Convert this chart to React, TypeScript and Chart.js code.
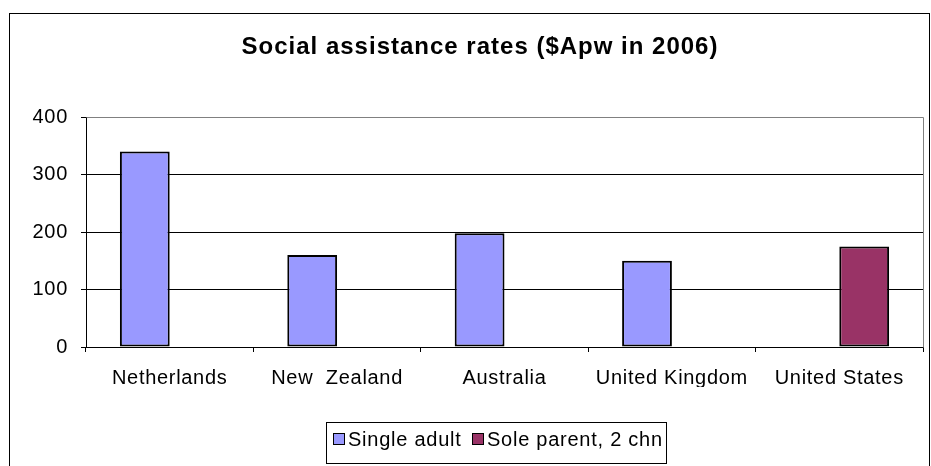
import React, { useEffect, useRef } from "react";
import { Chart, registerables } from "chart.js";

Chart.register(...registerables);

const categories = ["Netherlands", "New  Zealand", "Australia", "United Kingdom", "United States"];
const singleAdult = [340, 160, 198, 150, null];
const soleParent = [null, null, null, null, 175];
const seriesNames = ["Single adult", "Sole parent, 2 chn"];
const seriesColors = ["#9999FF", "#993366"];
const titleText = "Social assistance rates ($Apw in 2006)";
const yTicks = { min: 0, max: 400, step: 100 };

const FONT = '"Liberation Sans", Arial, sans-serif';

const decorPlugin = {
  id: "decor",
  beforeDraw(chart: any) {
    (chart.ctx as any).letterSpacing = "0.7px";
  },
  beforeDatasetsDraw(chart: any) {
    const { ctx, chartArea } = chart;
    ctx.save();
    ctx.strokeStyle = "#808080";
    ctx.lineWidth = 1;
    ctx.beginPath();
    ctx.moveTo(Math.round(chartArea.left) + 0.5, Math.round(chartArea.top) + 0.5);
    ctx.lineTo(Math.round(chartArea.right) + 0.5, Math.round(chartArea.top) + 0.5);
    ctx.lineTo(Math.round(chartArea.right) + 0.5, Math.round(chartArea.bottom) + 0.5);
    ctx.stroke();
    ctx.restore();
  },
  afterDraw(chart: any) {
    const { ctx } = chart;
    ctx.save();
    // outer chart border
    ctx.strokeStyle = "#000";
    ctx.lineWidth = 1;
    ctx.strokeRect(9.5, 13.5, 920, 470);
    // title
    ctx.fillStyle = "#000";
    ctx.letterSpacing = "1px";
    ctx.font = `bold 24px ${FONT}`;
    ctx.textAlign = "center";
    ctx.textBaseline = "middle";
    ctx.fillText(titleText, 480, 47);
    // legend
    ctx.letterSpacing = "0.75px";
    ctx.strokeRect(326.5, 422.5, 340, 41);
    ctx.font = `20px ${FONT}`;
    ctx.textAlign = "left";
    const xs = [333, 472];
    seriesNames.forEach((name, i) => {
      ctx.fillStyle = seriesColors[i];
      ctx.fillRect(xs[i], 433, 12, 12);
      ctx.strokeStyle = "#000";
      ctx.strokeRect(xs[i] + 0.5, 433.5, 11, 11);
      ctx.fillStyle = "#000";
      ctx.fillText(name, xs[i] + 15, 440);
    });
    ctx.restore();
  },
};

export default function App() {
  const ref = useRef<HTMLCanvasElement>(null);
  useEffect(() => {
    if (!ref.current) return;
    const chart = new Chart(ref.current, {
      type: "bar",
      data: {
        labels: categories,
        datasets: [
          {
            label: seriesNames[0],
            data: singleAdult,
            backgroundColor: seriesColors[0],
            borderColor: "#000",
            borderWidth: 2,
            borderSkipped: false,
          },
          {
            label: seriesNames[1],
            data: soleParent,
            backgroundColor: seriesColors[1],
            borderColor: "#000",
            borderWidth: 2,
            borderSkipped: false,
          },
        ],
      },
      options: {
        responsive: false,
        animation: false,
        devicePixelRatio: 1,
        categoryPercentage: 0.595,
        barPercentage: 1,
        layout: { padding: { left: 0, right: 8, top: 117, bottom: 79 } },
        plugins: { legend: { display: false }, title: { display: false }, tooltip: { enabled: false } },
        scales: {
          x: {
            grid: { offset: true, drawOnChartArea: false, drawTicks: true, tickLength: 5, color: "#000" },
            border: { color: "#000" },
            ticks: { color: "#000", font: { family: FONT, size: 20 }, padding: 14, maxRotation: 0, autoSkip: false },
            afterFit: (s: any) => { s.height = 40; },
          },
          y: {
            min: yTicks.min,
            max: yTicks.max,
            grid: { color: "#000", tickLength: 5 },
            border: { color: "#000" },
            ticks: { stepSize: yTicks.step, color: "#000", font: { family: FONT, size: 20 }, padding: 13 },
            afterFit: (s: any) => { s.width = 86; },
          },
        },
      },
      plugins: [decorPlugin],
    });
    return () => chart.destroy();
  }, []);
  return (
    <div style={{ position: "absolute", left: 0, top: 0, width: 931, height: 466, background: "#fff" }}>
      <canvas ref={ref} width={931} height={466} />
    </div>
  );
}
